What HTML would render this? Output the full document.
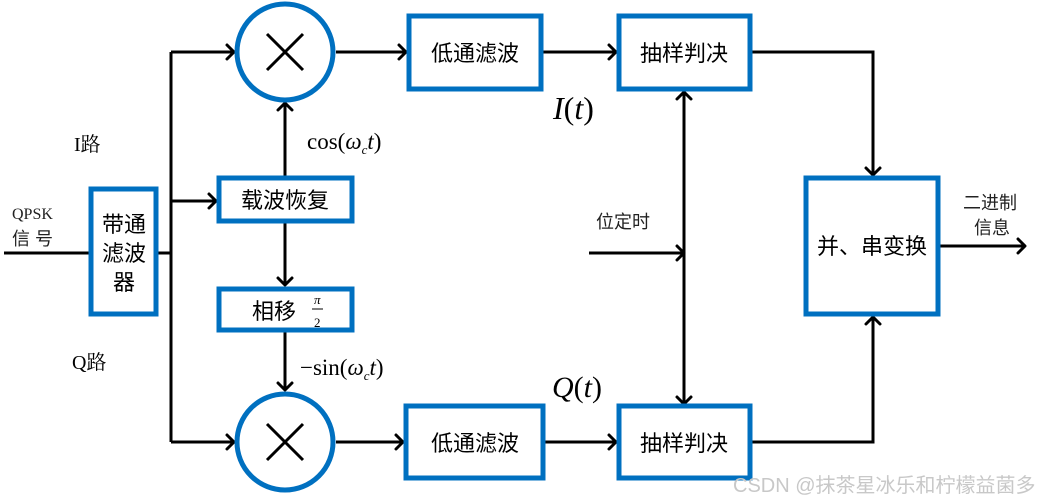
<!DOCTYPE html>
<html><head><meta charset="utf-8"><style>
body{margin:0;background:#fff}
svg{display:block}
.b{fill:none;stroke:#0070c0;stroke-width:5}
.l{fill:none;stroke:#000;stroke-width:3}
.a{fill:none;stroke:#000;stroke-width:3;stroke-linecap:round;stroke-linejoin:round}
.t{font-family:"Liberation Sans","Noto Sans CJK SC",sans-serif;font-size:22px}
.m{font-family:"Liberation Serif","Noto Serif CJK SC",serif}
.c{font-family:"Liberation Sans","Noto Sans CJK SC",sans-serif}
</style></head><body>
<svg width="1039" height="503" viewBox="0 0 1039 503">
<path class="l" d="M4 253H90M158 253H171M171 52V442M171 52H233M171 442H233M171 201H215M336 52H405M336 442H402M285 176V105M285 223V285M285 332V390M543 52H615M545 442H615M752 52H873V174M752 442H873V318M940 246H1025M684 93V402M589 253H684"/>
<g class="a">
<path d="M227 45L234 52L227 59"/><path d="M227 435L234 442L227 449"/>
<path d="M209 194L216 201L209 208"/>
<path d="M278 110L285 103L292 110"/><path d="M278 278L285 285L292 278"/><path d="M278 383L285 390L292 383"/>
<path d="M399 45L406 52L399 59"/><path d="M396 435L403 442L396 449"/>
<path d="M609 45L616 52L609 59"/><path d="M609 435L616 442L609 449"/>
<path d="M866 168L873 175L880 168"/><path d="M866 324L873 317L880 324"/>
<path d="M1018 239L1025 246L1018 253"/>
<path d="M677 99L684 92L691 99"/><path d="M677 397L684 404L691 397"/>
<path d="M677 246L684 253L677 260"/>
</g>
<circle class="b" cx="285" cy="52" r="48" fill="#fff"/>
<circle class="b" cx="285" cy="442" r="48" fill="#fff"/>
<path class="l" d="M267 34L303 70M303 34L267 70M267 424L303 460M303 424L267 460"/>
<rect class="b" x="91" y="189" width="65" height="125"/>
<rect class="b" x="219" y="178" width="133" height="43"/>
<rect class="b" x="219" y="289" width="133" height="41"/>
<rect class="b" x="409" y="16" width="132" height="73"/>
<rect class="b" x="406" y="406" width="137" height="72"/>
<rect class="b" x="619" y="16" width="131" height="73"/>
<rect class="b" x="619" y="406" width="131" height="72"/>
<rect class="b" x="806" y="178" width="132" height="136"/>
<text class="t" x="124" y="232" text-anchor="middle">带通</text>
<text class="t" x="124" y="261" text-anchor="middle">滤波</text>
<text class="t" x="124" y="290" text-anchor="middle">器</text>
<text class="t" x="285" y="208" text-anchor="middle">载波恢复</text>
<text class="t" x="284" y="319" text-anchor="middle" dx="-10">相移</text>
<text class="m" x="314" y="304" font-size="13" font-style="italic">π</text>
<line x1="312" y1="309" x2="323" y2="309" stroke="#000" stroke-width="1"/>
<text class="m" x="314" y="327" font-size="13">2</text>
<text class="t" x="475" y="61" text-anchor="middle">低通滤波</text>
<text class="t" x="475" y="451" text-anchor="middle">低通滤波</text>
<text class="t" x="684" y="61" text-anchor="middle">抽样判决</text>
<text class="t" x="684" y="451" text-anchor="middle">抽样判决</text>
<text class="t" x="872" y="254" text-anchor="middle">并、串变换</text>
<text class="m" x="74" y="151" font-size="20">I路</text>
<text class="m" x="72" y="369" font-size="20">Q路</text>
<text class="m" x="12" y="219" font-size="16" fill="#222">QPSK</text>
<text class="c" x="12" y="245" font-size="18" fill="#222">信 号</text>
<text class="c" x="596" y="228" font-size="18" fill="#222">位定时</text>
<text class="c" x="963" y="209" font-size="18" fill="#222">二进制</text>
<text class="c" x="974" y="234" font-size="18" fill="#222">信息</text>
<text class="m" x="307" y="149" font-size="23">cos(<tspan font-style="italic">ω</tspan><tspan font-size="13" font-style="italic" dy="5">c</tspan><tspan font-style="italic" dy="-5">t</tspan>)</text>
<text class="m" x="300" y="375" font-size="23">−sin(<tspan font-style="italic">ω</tspan><tspan font-size="13" font-style="italic" dy="5">c</tspan><tspan font-style="italic" dy="-5">t</tspan>)</text>
<text class="m" x="553" y="119" font-size="32"><tspan font-style="italic">I</tspan>(<tspan font-style="italic">t</tspan>)</text>
<text class="m" x="552" y="397" font-size="30"><tspan font-style="italic">Q</tspan>(<tspan font-style="italic">t</tspan>)</text>
<text class="c" x="733" y="492" font-size="20" fill="#c8c8c8">CSDN @抹茶星冰乐和柠檬益菌多</text>
</svg>
</body></html>
